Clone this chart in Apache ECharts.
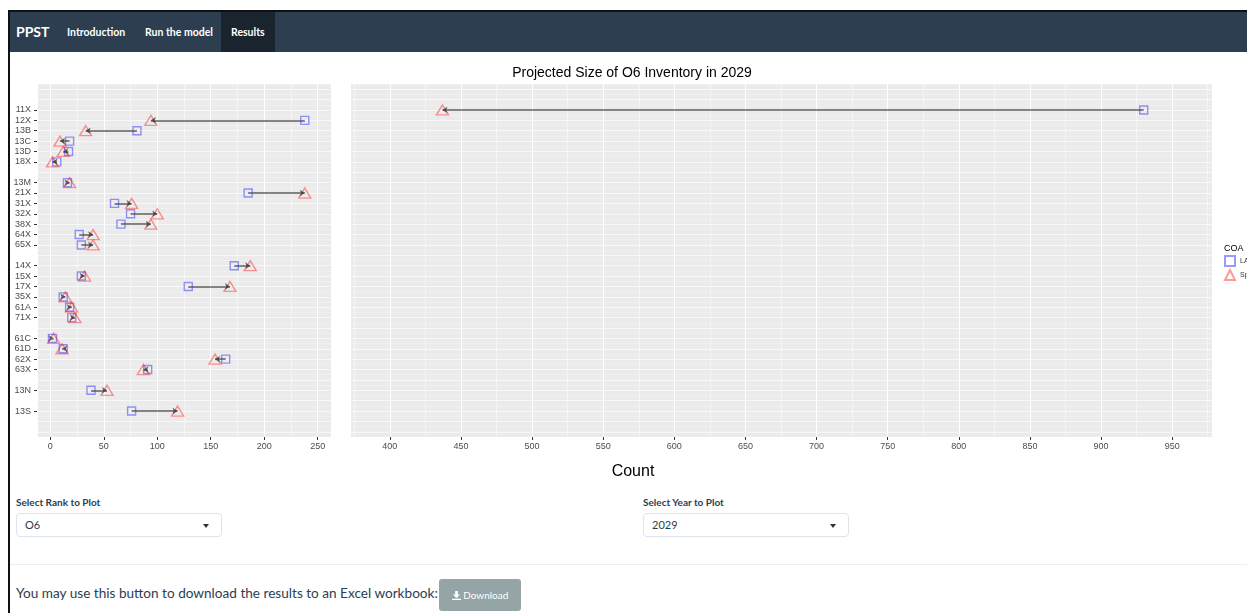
<!DOCTYPE html>
<html>
<head>
<meta charset="utf-8">
<title>PPST Results</title>
<script src="https://cdn.jsdelivr.net/npm/echarts@6/dist/echarts.min.js"></script>
<style>
  body { margin: 0; background: #fff; font-family: Lato, "Noto Sans", sans-serif; color: #2c3e50; }
  #frame { position: absolute; left: 8px; top: 10px; right: 0; bottom: 0; border-left: 2px solid #111; border-top: 2px solid #111; }
  #nav { position: absolute; left: 10px; top: 12px; right: 0; height: 40px; background: #2c3e50; }
  #nav span { position: absolute; top: 0; line-height: 40px; color: #fff; font-size: 10.5px; font-weight: bold; }
  #nav .brand { font-size: 14px; }
  #nav .active { background: #1a242f; padding: 0 10px; }
  .lbl { position: absolute; font-size: 10px; font-weight: bold; color: #2c3e50; }
  .sel { position: absolute; border: 1px solid #dce4ec; border-radius: 4px; font-size: 11px; line-height: 22px; padding-left: 8px; box-sizing: border-box; width: 206px; height: 24px; color: #2c3e50; }
  .sel:after { content: ""; position: absolute; right: 12px; top: 10px; border-left: 3px solid transparent; border-right: 3px solid transparent; border-top: 4px solid #333; }
  #hr { position: absolute; left: 10px; right: 0; top: 564px; border-top: 1px solid #ececec; }
  #dltext { position: absolute; left: 16px; top: 585px; font-size: 13.6px; color: #2c3e50; }
  #dlbtn { position: absolute; left: 439px; top: 579px; width: 82px; height: 32px; background: #95a5a6; border-radius: 3px; color: #fff; font-size: 10px; line-height: 32px; text-align: center; }
  #chart { position: absolute; left: 0; top: 0; width: 1247px; height: 613px; z-index: 5; }
</style>
</head>
<body>
<div id="frame"></div>
<div id="nav">
  <span class="brand" style="left:6px">PPST</span>
  <span style="left:57px">Introduction</span>
  <span style="left:135px">Run the model</span>
  <span class="active" style="left:211px">Results</span>
</div>
<div class="lbl" style="left:16px;top:496px">Select Rank to Plot</div>
<div class="sel" style="left:16px;top:513px">O6</div>
<div class="lbl" style="left:643px;top:496px">Select Year to Plot</div>
<div class="sel" style="left:643px;top:513px">2029</div>
<div id="hr"></div>
<div id="dltext">You may use this button to download the results to an Excel workbook:</div>
<div id="dlbtn"><svg width="9" height="9" viewBox="0 0 10 10" style="vertical-align:-1px"><path d="M3.5 0h3v4h2.5L5 8 1 4h2.5z M0 8.5h10V10H0z" fill="#fff"/></svg> Download</div>
<div id="chart"></div>
<script>
// row layout on the y axis, null = empty row between groups
const rankRows = ['11X','12X','13B','13C','13D','18X',null,
  '13M','21X','31X','32X','38X','64X','65X',null,
  '14X','15X','17X','35X','61A','71X',null,
  '61C','61D','62X','63X',null,'13N',null,'13S'];

// projected counts, in the order of the non-empty rows
const laCounts = [930, 238, 81, 18, 17, 6,
  16, 185, 60, 75, 66, 27, 29,
  172, 29, 129, 12, 18, 20,
  2, 12, 164, 91, 38, 76];
const spCounts = [437, 94, 33, 9, 12, 2,
  18, 238, 76, 100, 94, 40, 40,
  187, 32, 168, 14, 20, 23,
  3, 11, 154, 87, 53, 119];

const padRows = 2;
const leftMax = 262.5;
const rightMin = 372;

// category list for the labelled axis (padding and gaps get hidden names)
const cats = [];
for (let i = 0; i < padRows; i++) cats.push('_pad' + i);
rankRows.forEach((r, i) => cats.push(r === null ? '_gap' + i : r));
for (let i = 0; i < padRows; i++) cats.push('_padb' + i);

const rows = [];
rankRows.forEach((r, i) => { if (r !== null) rows.push(i); });

const laPts = [[], []], spPts = [[], []], arrows = [[], []];
rows.forEach((row, k) => {
  const la = laCounts[k], sp = spCounts[k];
  const g = Math.min(la, sp) >= rightMin ? 1 : 0;
  laPts[g].push([la, row]);
  spPts[g].push([sp, row]);
  arrows[g].push({ coords: [[la, row], [sp, row]] });
});

const font = 'Liberation Sans';
const tickColor = '#333';

function xAxisFor(grid, min, max, split) {
  return {
    type: 'value', gridIndex: grid, min: min, max: max, position: 'bottom',
    splitNumber: split, minInterval: 50, maxInterval: 50,
    axisLine: { show: false, onZero: false },
    axisTick: { show: true, length: 3, lineStyle: { color: tickColor } },
    axisLabel: { color: '#4d4d4d', fontSize: 9, fontFamily: font, margin: 5, showMinLabel: false, showMaxLabel: false },
    splitLine: { show: true, lineStyle: { color: '#ffffff', width: 1 } },
    minorTick: { show: false, splitNumber: 2 },
    minorSplitLine: { show: true, lineStyle: { color: 'rgba(255,255,255,0.55)', width: 0.8 } }
  };
}

function rowAxisFor(grid) {
  return {
    type: 'value', gridIndex: grid, inverse: true, position: 'left',
    min: -padRows - 0.5, max: rankRows.length - 1 + padRows + 0.5, interval: 0.5,
    axisLine: { show: false, onZero: false }, axisTick: { show: false }, axisLabel: { show: false },
    splitLine: { show: true, lineStyle: { color: ['rgba(255,255,255,0.35)', 'rgba(255,255,255,0.8)'], width: 0.8 } }
  };
}

function seriesFor(g) {
  return [
    {
      name: 'LA', type: 'scatter', xAxisIndex: g, yAxisIndex: g === 0 ? 1 : 2,
      symbol: 'rect', symbolSize: 8, z: 2,
      itemStyle: { color: 'rgba(0,0,0,0)', borderColor: 'rgba(0,0,255,0.5)', borderWidth: 1.4 },
      data: laPts[g]
    },
    {
      name: 'Sp', type: 'scatter', xAxisIndex: g, yAxisIndex: g === 0 ? 1 : 2,
      symbol: 'triangle', symbolSize: [12, 10], z: 2,
      itemStyle: { color: 'rgba(0,0,0,0)', borderColor: 'rgba(255,0,0,0.5)', borderWidth: 1.4 },
      data: spPts[g]
    },
    {
      name: 'arrow', type: 'lines', coordinateSystem: 'cartesian2d',
      xAxisIndex: g, yAxisIndex: g === 0 ? 1 : 2, z: 3,
      symbol: ['none', 'arrow'], symbolSize: 5,
      lineStyle: { color: '#444', width: 1.5, opacity: 0.85 },
      data: arrows[g]
    }
  ];
}

const chart = echarts.init(document.getElementById('chart'));
chart.setOption({
  animation: false,
  title: [
    { text: 'Projected Size of O6 Inventory in 2029', left: 632, top: 66, textAlign: 'center', padding: 0,
      textStyle: { fontFamily: font, fontSize: 14, fontWeight: 'normal', color: '#000' } },
    { text: 'Count', left: 633, top: 464, textAlign: 'center', padding: 0,
      textStyle: { fontFamily: font, fontSize: 16, fontWeight: 'normal', color: '#000' } },
    { text: 'COA', left: 1224, top: 244, padding: 0,
      textStyle: { fontFamily: font, fontSize: 9, fontWeight: 'normal', color: '#000' } }
  ],
  legend: {
    data: ['LA', 'Sp'], orient: 'vertical', left: 1224, top: 255,
    itemWidth: 10, itemHeight: 10, itemGap: 2, padding: 0,
    textStyle: { fontFamily: font, fontSize: 7, color: '#333' }
  },
  grid: [
    { left: 37, top: 84, width: 294, height: 353, show: true, backgroundColor: '#ebebeb', borderWidth: 0 },
    { left: 350, top: 84, width: 862, height: 353, show: true, backgroundColor: '#ebebeb', borderWidth: 0 }
  ],
  xAxis: [
    xAxisFor(0, -12.5, leftMax, 5),
    xAxisFor(1, rightMin, 978, 12)
  ],
  yAxis: [
    {
      type: 'category', gridIndex: 0, inverse: true, data: cats, position: 'left',
      axisLine: { show: false, onZero: false },
      axisTick: { show: true, alignWithLabel: true, length: 3, lineStyle: { color: tickColor },
        interval: (idx, val) => !String(val).startsWith('_') },
      axisLabel: { interval: 0, color: '#4d4d4d', fontSize: 9, fontFamily: font, margin: 6,
        formatter: v => (v.startsWith('_') ? '' : v) },
      splitLine: { show: false }
    },
    rowAxisFor(0),
    rowAxisFor(1)
  ],
  series: seriesFor(0).concat(seriesFor(1))
});
</script>
</body>
</html>
